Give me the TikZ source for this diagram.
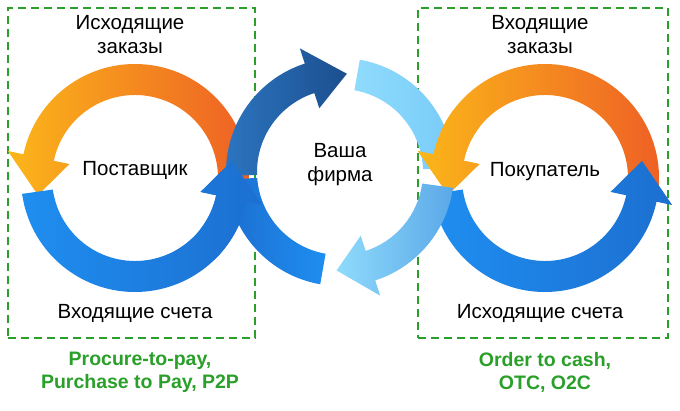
\documentclass[tikz,border=0pt]{standalone}
\usepackage{fontspec}
\setmainfont{Liberation Sans}
\usetikzlibrary{calc}
\definecolor{gbox}{HTML}{2AA02A}
\definecolor{or1}{HTML}{FBB61A}
\definecolor{or2}{HTML}{EE5F25}
\definecolor{bl1}{HTML}{1C6FD0}
\definecolor{bl2}{HTML}{1E8EF0}
\definecolor{db1}{HTML}{2C75C0}
\definecolor{db2}{HTML}{1B4F8E}
\definecolor{lb1}{HTML}{8FDBFC}
\definecolor{lb2}{HTML}{5BA8E8}
% #1 centre, #2 start, #3 end, #4 head delta (0 = none), #5 shading
\newcommand{\arcarr}[5]{%
  \shade[#5] ($(#1)+(#2:114)$) arc[start angle=#2,end angle=#3,radius=114]
   \ifnum#4=0\else -- ($(#1)+(#3:130)$) -- ($(#1)+({#3+#4}:98.5)$) -- ($(#1)+(#3:67)$)\fi
   -- ($(#1)+(#3:83)$) arc[start angle=#3,end angle=#2,radius=83] -- cycle;}
\tikzset{lbl/.style={font=\fontsize{20.5}{24}\selectfont,align=center},
 grn/.style={font=\fontsize{19.5}{23}\selectfont\bfseries,text=gbox,align=center},
 box/.style={draw=gbox,line width=2pt,dash pattern=on 8pt off 5pt}}
\begin{document}
\begin{tikzpicture}[x=1pt,y=1pt]
\useasboundingbox (0,0) rectangle (680,410);
\fill[white] (0,0) rectangle (680,410);
\coordinate (L) at (135,232);
\coordinate (R) at (545,232);
\coordinate (M) at (340,238);
\node[box,minimum width=247,minimum height=330,inner sep=0] (bl) at (131.5,237) {};
\node[box,minimum width=250,minimum height=330,inner sep=0] (br) at (543,237) {};
% left circle
\arcarr{L}{-5}{168}{22}{left color=or1,right color=or2}
\arcarr{L}{188}{348}{22}{left color=bl2,right color=bl1}
% right circle
\arcarr{R}{-5}{168}{22}{left color=or1,right color=or2}
\arcarr{R}{188}{348}{22}{left color=bl2,right color=bl1}
% middle
\arcarr{M}{-100}{-176}{0}{left color=bl1,right color=bl2}
\arcarr{M}{80}{2}{0}{left color=lb1,right color=lb1!80!bl2}
\arcarr{M}{-8}{-72}{-20}{left color=lb1,right color=lb2}
\arcarr{M}{182}{108}{-22}{left color=db1,right color=db2}
% redraw heads over middle
\begin{scope}
\clip (200,150) rectangle (270,260);
\arcarr{L}{188}{348}{22}{left color=bl2,right color=bl1}
\end{scope}
\begin{scope}
\clip (400,240) rectangle (480,300);
\arcarr{R}{-5}{168}{22}{left color=or1,right color=or2}
\end{scope}
\node[lbl] (t1) at (130,375) {Исходящие\\заказы};
\node[lbl] (t2) at (135,240) {Поставщик};
\node[lbl] (t3) at (135,97) {Входящие счета};
\node[grn] (g1) at (140,38) {Procure-to-pay,\\Purchase to Pay, P2P};
\node[lbl] (t4) at (540,375) {Входящие\\заказы};
\node[lbl] (t5) at (545,238) {Покупатель};
\node[lbl] (t6) at (540,97) {Исходящие счета};
\node[grn] (g2) at (545,38) {Order to cash,\\OTC, O2C};
\node[lbl] (t7) at (340,245) {Ваша\\фирма};
\end{tikzpicture}
\end{document}
